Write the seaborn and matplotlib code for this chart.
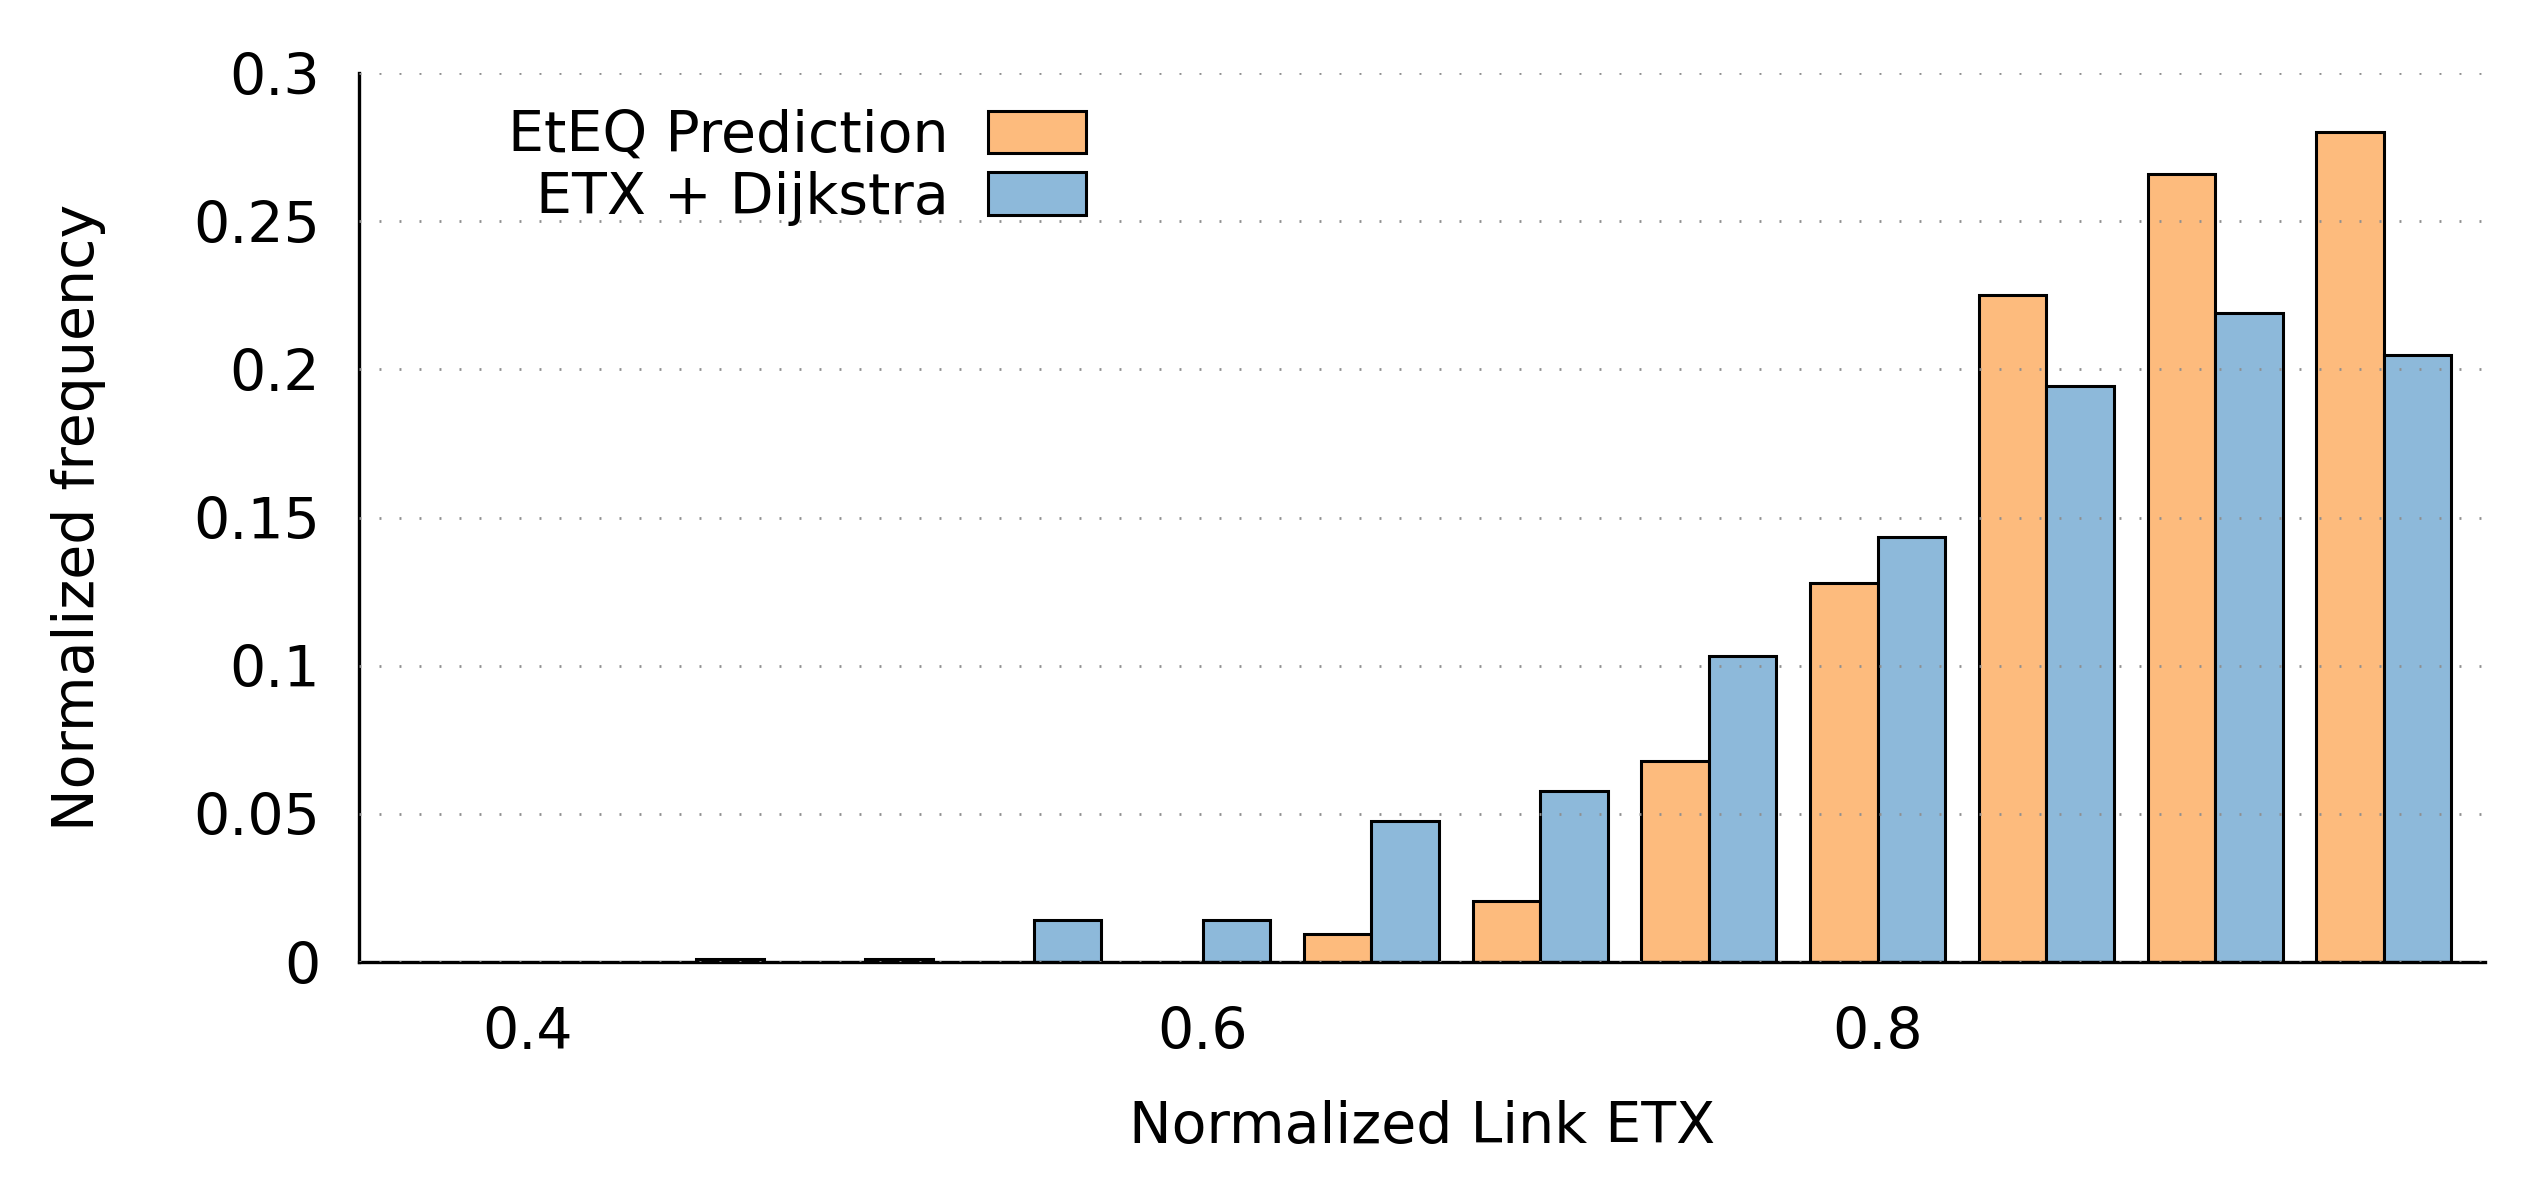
"""Histogram of normalized link ETX: EtEQ prediction vs ETX + Dijkstra."""

import matplotlib
matplotlib.use("Agg")
import matplotlib.pyplot as plt
import pandas as pd
import seaborn as sns

# bin centres (normalized link ETX) and normalized frequencies
bin_centers = [0.40, 0.45, 0.50, 0.55, 0.60, 0.65, 0.70, 0.75, 0.80, 0.85, 0.90, 0.95]
eteq_freq = [0.0, 0.0, 0.0, 0.0, 0.0, 0.0093, 0.0207, 0.068, 0.128, 0.225, 0.266, 0.2802]
dijkstra_freq = [0.0, 0.001, 0.001, 0.0143, 0.0142, 0.0475, 0.0578, 0.1032, 0.1435, 0.1943, 0.2189, 0.2048]

series_names = ["EtEQ Prediction", "ETX + Dijkstra"]
series_colors = ["#fdbb7d", "#8db9da"]

x_ticks = [0.4, 0.6, 0.8]
x_tick_labels = ["0.4", "0.6", "0.8"]
y_ticks = [0, 0.05, 0.1, 0.15, 0.2, 0.25, 0.3]
y_tick_labels = ["0", "0.05", "0.1", "0.15", "0.2", "0.25", "0.3"]

FONT_SIZE = 41

sns.set_theme(style="white")
plt.rcParams["font.family"] = ["DejaVu Sans"]
plt.rcParams.update({
    "text.color": "black",
    "axes.labelcolor": "black",
    "xtick.color": "black",
    "ytick.color": "black",
})

df = pd.DataFrame({
    "etx": bin_centers * 2,
    "freq": eteq_freq + dijkstra_freq,
    "series": [series_names[0]] * len(bin_centers) + [series_names[1]] * len(bin_centers),
})

fig = plt.figure(figsize=(25.35, 11.93), dpi=100)
ax = fig.add_axes([0.1416, 0.1936, 0.8387, 0.7452])

sns.barplot(
    data=df,
    x="etx",
    y="freq",
    hue="series",
    hue_order=series_names,
    palette=series_colors,
    native_scale=True,
    width=0.8,
    errorbar=None,
    edgecolor="black",
    linewidth=2.2,
    saturation=1,
    ax=ax,
)

ax.set_xlim(0.35, 0.98)
ax.set_ylim(0, 0.3)
ax.set_xticks(x_ticks, x_tick_labels)
ax.set_yticks(y_ticks, y_tick_labels)
ax.tick_params(axis="both", length=0, labelsize=FONT_SIZE, labelcolor="black")
ax.tick_params(axis="x", pad=32)
ax.tick_params(axis="y", pad=28)

# dotted horizontal grid drawn on top of the bars
ax.set_axisbelow(False)
ax.yaxis.grid(True, color="#8f8f8f", linewidth=2, linestyle=(0, (0.7, 6.5)))
ax.xaxis.grid(False)

for side in ["top", "right"]:
    ax.spines[side].set_visible(False)
for side in ["left", "bottom"]:
    ax.spines[side].set_color("black")
    ax.spines[side].set_linewidth(2.4)

ax.set_xlabel("Normalized Link ETX", fontsize=FONT_SIZE, va="center", color="black")
ax.set_ylabel("Normalized frequency", fontsize=FONT_SIZE, va="center", color="black")
ax.xaxis.set_label_coords(0.5, -0.186)
ax.yaxis.set_label_coords(-0.132, 0.5)

handles, labels = ax.get_legend_handles_labels()
leg = ax.legend(
    handles,
    labels,
    loc="center right",
    bbox_to_anchor=(0.342, 0.894),
    markerfirst=False,
    frameon=False,
    fontsize=FONT_SIZE,
    handlelength=1.72,
    handleheight=0.78,
    handletextpad=0.7,
    labelspacing=0.12,
    borderpad=0,
    borderaxespad=0,
)
for text in leg.get_texts():
    text.set_color("black")

fig.savefig("out.png", dpi=100)
plt.close(fig)
